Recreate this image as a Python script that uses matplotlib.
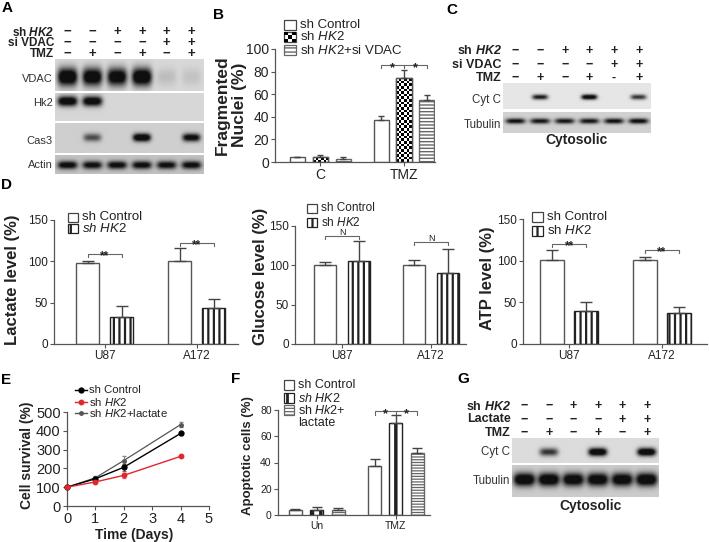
import numpy as np
import matplotlib
matplotlib.use("Agg")
import matplotlib.pyplot as plt
from matplotlib.patches import Rectangle
from matplotlib.lines import Line2D

# ---------------- data ----------------
lane_A_shHK2 = ['−', '−', '+', '+', '+', '+']
lane_A_siVDAC = ['−', '−', '−', '−', '+', '+']
lane_A_TMZ = ['−', '+', '−', '+', '−', '+']
blotA_vdac = [1.0, 0.95, 0.92, 1.0, 0.10, 0.08]
blotA_hk2 = [0.95, 0.92, 0.0, 0.0, 0.0, 0.0]
blotA_cas3 = [0.0, 0.5, 0.0, 1.0, 0.0, 0.85]
blotA_actin = [0.85, 0.8, 0.82, 0.82, 0.8, 0.82]

b_groups = ['C', 'TMZ']
b_ctrl = [4, 37]
b_ctrl_err = [0.5, 4]
b_hk2 = [4, 74]
b_hk2_err = [2.5, 7]
b_vdac = [3, 55]
b_vdac_err = [1, 4]

lane_C_shHK2 = ['−', '−', '+', '+', '+', '+']
lane_C_siVDAC = ['−', '−', '−', '−', '+', '+']
lane_C_TMZ = ['−', '+', '−', '+', '-', '+']
blotC_cytc = [0.0, 0.7, 0.0, 0.9, 0.0, 0.6]
blotC_tub = [0.75, 0.72, 0.72, 0.72, 0.75, 0.78]

d_cells = ['U87', 'A172']
d_lac_ctrl = [98, 100]
d_lac_ctrl_err = [3, 16]
d_lac_hk2 = [33, 43]
d_lac_hk2_err = [13, 11]
d_glu_ctrl = [100, 100]
d_glu_ctrl_err = [4, 7]
d_glu_hk2 = [106, 90]
d_glu_hk2_err = [25, 31]
d_atp_ctrl = [101, 101]
d_atp_ctrl_err = [12, 4]
d_atp_hk2 = [40, 37]
d_atp_hk2_err = [11, 8]

e_days = [0, 1, 2, 4]
e_ctrl = [100, 145, 206, 386]
e_ctrl_err = [3, 8, 20, 6]
e_hk2 = [100, 128, 163, 264]
e_hk2_err = [3, 6, 15, 6]
e_lac = [100, 150, 242, 433]
e_lac_err = [3, 8, 25, 15]

f_groups = ['Un', 'TMZ']
f_ctrl = [4, 37]
f_ctrl_err = [0.5, 6]
f_hk2 = [4, 70]
f_hk2_err = [2, 6]
f_lac = [4, 47]
f_lac_err = [1, 4]

lane_G_shHK2 = ['−', '−', '+', '+', '+', '+']
lane_G_lact = ['−', '−', '−', '−', '+', '+']
lane_G_TMZ = ['−', '+', '−', '+', '−', '+']
blotG_cytc = [0.0, 0.6, 0.0, 1.0, 0.0, 1.0]
blotG_tub = [1.0, 1.0, 0.95, 0.95, 0.95, 1.0]

# ---------------- style ----------------
plt.rcParams.update({
    'font.family': ['Liberation Sans', 'DejaVu Sans'],
    'mathtext.fontset': 'custom',
    'mathtext.rm': 'Liberation Sans',
    'mathtext.it': 'Liberation Sans:italic',
    'mathtext.bf': 'Liberation Sans:bold',
    'mathtext.bfit': 'Liberation Sans:italic:bold',
    'hatch.linewidth': 1.5,
    'axes.linewidth': 0.9,
})

W, H = 709, 542
fig = plt.figure(figsize=(W / 100, H / 100), dpi=100)
EDGE = '#555555'
TXT = '#222222'


def px_axes(l, t, r, b):
    return fig.add_axes([l / W, 1 - b / H, (r - l) / W, (b - t) / H])


def ftext(x, y, s, **kw):
    kw.setdefault('color', TXT)
    return fig.text(x / W, 1 - y / H, s, **kw)


def style_axes(ax, fs):
    for s in ['top', 'right']:
        ax.spines[s].set_visible(False)
    for s in ['left', 'bottom']:
        ax.spines[s].set_color(EDGE)
    ax.tick_params(direction='out', length=3, width=0.8, color=EDGE,
                   labelsize=fs, pad=1.5, labelcolor=TXT)


def blot_strip(l, t, r, b, intens, band_y, band_h, band_w, bg):
    ax = px_axes(l, t, r, b)
    ny, nx = 80, 360
    xs = np.linspace(0, 6, nx)
    ys = np.linspace(0, 1, ny)
    X, Y = np.meshgrid(xs, ys)
    D = np.zeros_like(X)
    for i, v in enumerate(intens):
        D += v * np.exp(-np.abs((X - (i + 0.5)) / band_w) ** 4) * \
            np.exp(-((Y - band_y) / band_h) ** 2)
    D = np.clip(D * 1.4, 0, 1)
    img = bg * (1 - D) + 0.06 * D
    ax.imshow(img, cmap='gray', vmin=0, vmax=1, extent=[0, 6, 0, 1],
              origin='lower', aspect='auto', interpolation='bilinear')
    ax.set_xlim(0, 6)
    ax.set_ylim(0, 1)
    ax.set_axis_off()
    return ax


def headers(l, r, rows, labels, signs, fs=8, sfs=9):
    pitch = (r - l) / 6
    for (y, lab, sg) in zip(rows, labels, signs):
        ftext(l - 1, y, lab, ha='right', va='center', fontsize=fs,
              fontweight='bold')
        for i, s in enumerate(sg):
            ftext(l + (i + 0.5) * pitch, y, s, ha='center', va='center',
                  fontsize=sfs, fontweight='bold')


def leg_box(x, y, w, h, text, fs, hatch=None, ec='#444444', checker=False,
            hlw=None):
    rect = Rectangle((x / W, 1 - (y + h / 2) / H), w / W, h / H,
                     transform=fig.transFigure, facecolor='white',
                     edgecolor=ec, hatch=hatch, linewidth=0.9)
    if hlw is not None and hasattr(rect, 'set_hatch_linewidth'):
        rect.set_hatch_linewidth(hlw)
    fig.add_artist(rect)
    if checker:
        n = 3
        cw, ch = w / n, h / n
        for i in range(n):
            for j in range(n):
                if (i + j) % 2 == 0:
                    fig.add_artist(Rectangle(((x + i * cw) / W,
                                              1 - (y + h / 2 - j * ch) / H),
                                             cw / W, ch / H,
                                             transform=fig.transFigure,
                                             facecolor='black',
                                             edgecolor='none'))
    return ftext(x + w + 4, y, text, ha='left', va='center', fontsize=fs)


def bars(ax, xs, vals, errs, width, hatch=None, ec=EDGE, capsize=3, hlw=None):
    bc = ax.bar(xs, vals, width, color='white', edgecolor=ec, hatch=hatch,
                linewidth=1.0, zorder=2)
    if hlw is not None:
        for p in bc:
            if hasattr(p, 'set_hatch_linewidth'):
                p.set_hatch_linewidth(hlw)
    ax.errorbar(xs, vals, yerr=[np.zeros(len(vals)), errs], fmt='none',
                ecolor='#444444', elinewidth=1, capsize=capsize, capthick=1,
                zorder=3)
    return bc


def checker_fill(ax, bc, sq=2.6):
    for p in bc:
        x0, w, h = p.get_x(), p.get_width(), p.get_height()
        (px0, py0) = ax.transData.transform((x0, 0))
        (px1, py1) = ax.transData.transform((x0 + w, h))
        nx = max(2, int(round((px1 - px0) / sq)))
        ny = max(1, int(round((py1 - py0) / sq)))
        pat = np.add.outer(np.arange(ny), np.arange(nx)) % 2
        im = ax.imshow(pat, cmap='gray', vmin=0, vmax=1,
                       extent=[x0, x0 + w, 0, h], origin='lower',
                       aspect='auto', interpolation='nearest', zorder=2.1)
        im.set_clip_path(p)
        ax.bar([x0 + w / 2], [h], w, fill=False, edgecolor=EDGE,
               linewidth=1.0, zorder=2.2)


def bracket(ax, x1, x2, y, tick, text, fs, positions=None, mid=False,
            dy=-3.0, bold=True):
    ax.plot([x1, x1, x2, x2], [y - tick, y, y, y - tick], color='#666666',
            lw=0.8, zorder=3, clip_on=False)
    if mid:
        xm = (x1 + x2) / 2
        ax.plot([xm, xm], [y, y - tick], color='#666666', lw=0.8,
                clip_on=False)
    if positions is None:
        positions = [(x1 + x2) / 2]
    for xp in positions:
        ax.annotate(text, (xp, y), xytext=(0, dy), textcoords='offset points',
                    ha='center', va='baseline', fontsize=fs, color=TXT,
                    fontweight='bold' if bold else 'normal',
                    annotation_clip=False)


# ---------------- panel letters ----------------
for lab, x, y in [('A', 7, 8), ('B', 218, 15), ('C', 452, 10), ('D', 6, 185),
                  ('E', 6, 380), ('F', 236, 379), ('G', 463, 379)]:
    ftext(x, y, lab, ha='center', va='center', fontsize=11, fontweight='bold',
          color='black')

# ---------------- Panel A ----------------
aL, aR = 55, 204
blot_strip(aL, 59, aR, 91, blotA_vdac, 0.44, 0.28, 0.40, 0.85)
blot_strip(aL, 93, aR, 121, blotA_hk2, 0.71, 0.18, 0.40, 0.84)
blot_strip(aL, 123, aR, 153, blotA_cas3, 0.50, 0.13, 0.36, 0.81)
blot_strip(aL, 155, aR, 174, blotA_actin, 0.47, 0.21, 0.40, 0.76)
for t, y in [('VDAC', 79), ('Hk2', 103), ('Cas3', 141), ('Actin', 165)]:
    ftext(aL - 2, y, t, ha='right', va='center', fontsize=8, color='#333333')
headers(aL, aR, [32, 43, 54],
        [r'sh $\mathbfit{HK2}$', 'si VDAC', 'TMZ'],
        [lane_A_shHK2, lane_A_siVDAC, lane_A_TMZ], fs=8.5, sfs=9.5)

# ---------------- Panel B ----------------
axB = px_axes(275, 49, 435, 162)
style_axes(axB, 10)
gx = np.arange(len(b_groups))
off, bw = 0.274, 0.18
axB.set_xlim(-0.54, 1.37)
axB.set_ylim(0, 100)
bars(axB, gx - off, b_ctrl, b_ctrl_err, bw, capsize=2.5)
bcB = bars(axB, gx, b_hk2, b_hk2_err, bw, capsize=2.5)
bars(axB, gx + off, b_vdac, b_vdac_err, bw, hatch='-----', ec='#666666',
     capsize=2.5, hlw=1.0)
checker_fill(axB, bcB)
axB.set_xlim(-0.54, 1.37)
axB.set_ylim(0, 100)
axB.set_yticks(np.arange(0, 101, 20))
axB.set_xticks(gx)
axB.set_xticklabels(b_groups)
bracket(axB, 1 - off, 1 + off, 86, 3, '*', 9,
        positions=[1 - off / 2, 1 + off / 2], mid=True, dy=-4.5)
ftext(222, 105, 'Fragmented', rotation=90, ha='center', va='center',
      fontsize=12.5, fontweight='bold')
ftext(240, 105, 'Nuclei (%)', rotation=90, ha='center', va='center',
      fontsize=12.5, fontweight='bold')
leg_box(284, 25, 12, 10, 'sh Control', 9.5)
leg_box(284, 37, 12, 10, r'sh $\mathit{HK2}$', 9.5, checker=True)
leg_box(284, 50, 12, 10, r'sh $\mathit{HK2}$+si VDAC', 9.5, hatch='----',
        ec='#666666', hlw=1.0)

# ---------------- Panel C ----------------
cL, cR = 503, 651
blot_strip(cL, 83, cR, 109, blotC_cytc, 0.46, 0.10, 0.32, 0.90)
blot_strip(cL, 112, cR, 133, blotC_tub, 0.57, 0.13, 0.40, 0.82)
ftext(cL - 2, 100, 'Cyt C', ha='right', va='center', fontsize=8.3,
      color='#333333')
ftext(cL - 2, 125, 'Tubulin', ha='right', va='center', fontsize=8.3,
      color='#333333')
headers(cL, cR, [51, 65, 78],
        [r'sh $\mathbfit{HK2}$', 'si VDAC', 'TMZ'],
        [lane_C_shHK2, lane_C_siVDAC, lane_C_TMZ], fs=9, sfs=9)
ftext(577, 140, 'Cytosolic', ha='center', va='center', fontsize=10,
      fontweight='bold')


# ---------------- Panel D ----------------
def d_panel(rect, xlim, off, bw, ctrl, ctrl_e, hk2, hk2_e, ylab, ylab_xy,
            brackets, btext, leg, leg_fs, italic_all=False):
    ax = px_axes(*rect)
    style_axes(ax, 8.5)
    x = np.arange(len(d_cells))
    ax.set_xlim(*xlim)
    ax.set_ylim(0, 150)
    bars(ax, x - off, ctrl, ctrl_e, bw, capsize=4.5)
    bars(ax, x + off, hk2, hk2_e, bw, hatch='|||', ec='#222222', capsize=4.5,
         hlw=1.6)
    ax.set_xticks(x)
    ax.set_xticklabels(d_cells)
    ax.set_yticks([0, 50, 100, 150])
    for xi, by in zip(x, brackets):
        if btext == '**':
            bracket(ax, xi - off, xi + off, by, 4, btext, 8.5, dy=-3.5)
        else:
            bracket(ax, xi - off, xi + off, by, 4, btext, 6.5, dy=0.8,
                    bold=False)
    ftext(ylab_xy[0], ylab_xy[1], ylab, rotation=90, ha='center',
          va='center', fontsize=12, fontweight='bold')
    lx, ly1, ly2, lw_, lh = leg
    leg_box(lx, ly1, lw_, lh, 'sh Control', leg_fs)
    lab2 = r'$\mathit{sh\ HK2}$' if italic_all else r'sh $\mathit{HK2}$'
    leg_box(lx, ly2, lw_, lh, lab2, leg_fs, hatch='||', ec='#222222', hlw=1.6)
    return ax


d_panel((54, 220, 238, 344), (-0.554, 1.446), 0.185, 0.25,
        d_lac_ctrl, d_lac_ctrl_err, d_lac_hk2, d_lac_hk2_err,
        'Lactate level (%)', (12, 280), [109, 122], '**',
        (68, 217, 228, 10, 9), 9.5, italic_all=True)
d_panel((295, 226, 466, 344), (-0.53, 1.39), 0.19, 0.25,
        d_glu_ctrl, d_glu_ctrl_err, d_glu_hk2, d_glu_hk2_err,
        'Glucose level (%)', (260, 276), [137, 130], 'N',
        (307, 208, 222, 10, 9), 8.5)
d_panel((523, 219, 707, 344), (-0.5, 1.49), 0.184, 0.26,
        d_atp_ctrl, d_atp_ctrl_err, d_atp_hk2, d_atp_hk2_err,
        'ATP level (%)', (487, 278), [120, 113], '**',
        (532, 217, 231, 11, 10), 9.5)

# ---------------- Panel E ----------------
axE = px_axes(67, 412, 209, 506)
style_axes(axE, 10.5)
RED = '#e2262b'
GRY = '#555555'
axE.errorbar(e_days, e_lac, yerr=e_lac_err, color=GRY, lw=0.9, marker='o',
             ms=2.5, capsize=1.5, elinewidth=0.7, ecolor='#888888',
             clip_on=False, zorder=3)
axE.errorbar(e_days, e_ctrl, yerr=e_ctrl_err, color='black', lw=1.0,
             marker='o', ms=3.5, capsize=1.5, elinewidth=0.7,
             ecolor='#666666', clip_on=False, zorder=4)
axE.errorbar(e_days, e_hk2, yerr=e_hk2_err, color=RED, lw=1.0, marker='o',
             ms=3.2, capsize=1.5, elinewidth=0.7, ecolor='#e07070',
             clip_on=False, zorder=5)
axE.set_xlim(0, 5)
axE.set_ylim(0, 500)
axE.set_xticks(range(0, 6))
axE.set_yticks(range(0, 501, 100))
ftext(27, 455, 'Cell survival (%)', rotation=90, ha='center', va='center',
      fontsize=10, fontweight='bold')
ftext(134, 535, 'Time (Days)', ha='center', va='center', fontsize=10,
      fontweight='bold')
for y, col, ms, lab in [(390, 'black', 3.5, 'sh Control'),
                        (401.5, RED, 3.2, r'sh $\mathit{HK2}$'),
                        (413, GRY, 2.5, r'sh $\mathit{HK2}$+lactate')]:
    fig.add_artist(Line2D([75 / W, 87 / W], [1 - y / H, 1 - y / H],
                          transform=fig.transFigure, color=col, lw=1.0))
    fig.add_artist(Line2D([81 / W], [1 - y / H], transform=fig.transFigure,
                          color=col, marker='o', ms=ms, lw=0))
    ftext(89, y, lab, ha='left', va='center', fontsize=8.2)

# ---------------- Panel F ----------------
axF = px_axes(278, 410, 430, 515)
style_axes(axF, 7.5)
gxF = np.arange(len(f_groups))
offF, bwF = 0.27, 0.165
axF.set_xlim(-0.49, 1.43)
axF.set_ylim(0, 80)
bars(axF, gxF - offF, f_ctrl, f_ctrl_err, bwF, capsize=3.5)
bars(axF, gxF, f_hk2, f_hk2_err, bwF, hatch='||', ec='#222222', capsize=3.5,
     hlw=2.5)
bars(axF, gxF + offF, f_lac, f_lac_err, bwF, hatch='------', ec='#666666',
     capsize=3.5, hlw=0.9)
axF.set_xticks(gxF)
axF.set_xticklabels(f_groups)
axF.set_yticks(range(0, 81, 20))
bracket(axF, 1 - offF, 1 + offF, 79, 2.5, '*', 9,
        positions=[1 - offF / 2, 1 + offF / 2], mid=True, dy=-4.5)
ftext(248, 456, 'Apoptotic cells (%)', rotation=90, ha='center',
      va='center', fontsize=9.5, fontweight='bold')
leg_box(284, 385, 10, 10, 'sh Control', 9)
leg_box(284, 398, 10, 10, r'$\mathit{sh\ HK2}$', 9, hatch='||',
        ec='#222222', hlw=2.0)
leg_box(284, 410, 10, 10, r'sh $\mathit{Hk2}$+', 9, hatch='-----',
        ec='#666666', hlw=0.9)
ftext(298, 423, 'lactate', ha='left', va='center', fontsize=9)

# ---------------- Panel G ----------------
gL, gR = 512, 659
blot_strip(gL, 438, gR, 463, blotG_cytc, 0.44, 0.16, 0.38, 0.86)
blot_strip(gL, 465, gR, 497, blotG_tub, 0.53, 0.20, 0.44, 0.80)
ftext(gL - 2, 452, 'Cyt C', ha='right', va='center', fontsize=8.3,
      color='#333333')
ftext(gL - 2, 481, 'Tubulin', ha='right', va='center', fontsize=8.3,
      color='#333333')
headers(gL, gR, [406, 419.5, 433],
        [r'sh $\mathbfit{HK2}$', 'Lactate', 'TMZ'],
        [lane_G_shHK2, lane_G_lact, lane_G_TMZ], fs=9, sfs=9)
ftext(590, 506, 'Cytosolic', ha='center', va='center', fontsize=10,
      fontweight='bold')

fig.savefig('out.png', dpi=100)
